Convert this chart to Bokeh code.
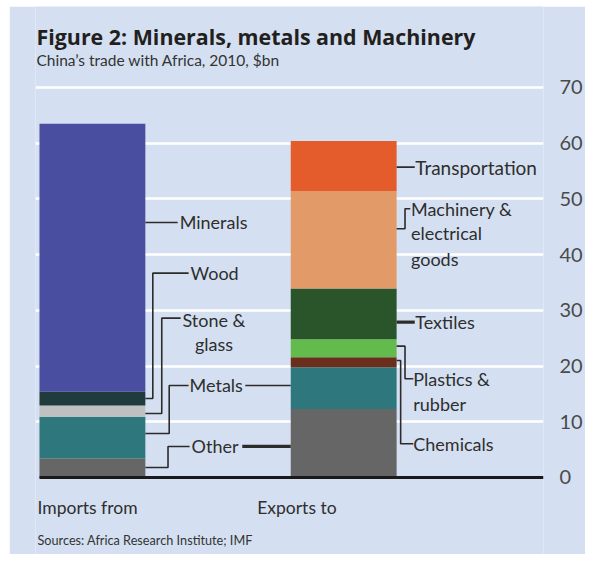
import numpy as np
from bokeh.plotting import figure
from bokeh.layouts import column, row
from bokeh.models import Range1d, FixedTicker, ColumnDataSource, Spacer
from bokeh.core.properties import value
from bokeh.embed import file_html
from bokeh.resources import INLINE

# ---------------- data ----------------
bar_names = ["Imports from", "Exports to"]

imports_labels = ["Other", "Metals", "Stone & glass", "Wood", "Minerals"]
imports_values = [3.4, 7.5, 2.0, 2.5, 48.1]
imports_colors = ["#666666", "#2e777c", "#c0c0c0", "#1f3b3b", "#4a4ea0"]

exports_labels = ["Other", "Metals", "Chemicals", "Plastics & rubber", "Textiles",
                  "Machinery & electrical goods", "Transportation"]
exports_values = [12.3, 7.5, 1.8, 3.2, 9.1, 17.5, 9.0]
exports_colors = ["#666666", "#2e777c", "#6b2e1c", "#62bb4c", "#2a5429",
                  "#e29a68", "#e55c2c"]

tick_values = [0, 10, 20, 30, 40, 50, 60, 70]

title_text = "Figure 2: Minerals, metals and Machinery"
subtitle_text = "China\u2019s trade with Africa, 2010, $bn"
source_text = "Sources: Africa Research Institute; IMF"

# ---------------- styling / layout ----------------
BG = "#d4e0f1"
FONT = "Lato"
TXT = "#2e2e2e"
LEAD = "#2b2b2b"
BAR_X = [57.25, 310.0]
BAR_W = 106.5

p = figure(width=576, height=548, output_backend="svg", toolbar_location=None,
           x_range=Range1d(0, 511), y_range=Range1d(-13.83, 84.54),
           x_axis_location=None, y_axis_location="right",
           min_border_left=26, min_border_right=39, min_border_top=0, min_border_bottom=0,
           background_fill_color=BG, border_fill_color=BG, outline_line_color=None)

# grid
p.xgrid.visible = False
p.ygrid.ticker = FixedTicker(ticks=tick_values[1:])
p.ygrid.grid_line_color = "white"
p.ygrid.grid_line_width = 2.5

# right axis
ax = p.yaxis[0]
ax.ticker = FixedTicker(ticks=tick_values)
ax.axis_line_color = None
ax.major_tick_line_color = None
ax.minor_tick_line_color = None
ax.major_label_standoff = 10
ax.major_label_text_font = FONT
ax.major_label_text_font_size = "20px"
ax.major_label_text_color = "#4a4a4a"

# stacked bars
def stack(xc, vals, cols):
    vals = np.array(vals, dtype=float)
    top = np.cumsum(vals)
    bottom = top - vals
    src = ColumnDataSource(dict(x=[xc] * len(vals), bottom=bottom, top=top, color=cols))
    p.vbar(x="x", bottom="bottom", top="top", width=BAR_W, fill_color="color",
           line_color=None, source=src)

stack(BAR_X[0], imports_values, imports_colors)
stack(BAR_X[1], exports_values, exports_colors)

# baseline
p.segment(x0=4, y0=0, x1=511, y1=0, line_color="#1a1a1a", line_width=3)

# leader lines
xr_i = BAR_X[0] + BAR_W / 2
xr_e = BAR_X[1] + BAR_W / 2
thin_xs = [
    [xr_i, 143],                              # Minerals
    [xr_i, 118, 118, 154],                    # Wood
    [xr_i, 127, 127, 146],                    # Stone & glass
    [xr_i, 134.5, 134.5, 154],                # Metals
    [xr_i, 133.3, 133.3, 155],                # Other
    [211, BAR_X[1] - BAR_W / 2],              # Metals -> exports
    [xr_e, 381.5],                            # Transportation
    [xr_e, 371.7, 371.7, 377],                # Machinery
    [xr_e, 371.7, 371.7, 380],                # Plastics
    [xr_e, 367.3, 367.3, 380],                # Chemicals
]
thin_ys = [
    [45.77, 45.77],
    [14.18, 14.18, 36.67, 36.67],
    [11.49, 11.49, 28.6, 28.6],
    [7.90, 7.90, 16.51, 16.51],
    [1.80, 1.80, 5.57, 5.57],
    [16.51, 16.51],
    [55.70, 55.70],
    [44.64, 44.64, 48.23, 48.23],
    [23.57, 23.57, 17.72, 17.72],
    [21.0, 21.0, 6.05, 6.05],
]
p.multi_line(xs=thin_xs, ys=thin_ys, line_color=LEAD, line_width=1.6)
p.multi_line(xs=[[208, BAR_X[1] - BAR_W / 2], [xr_e, 381.5]],
             ys=[[5.57, 5.57], [27.88, 27.88]], line_color=LEAD, line_width=3.2)

# category labels
def label(x, y, t, size="18px", align="left", bold=False, color=TXT, baseline="middle", font=FONT):
    p.text(x=[x], y=[y], text=[t], text_font=value(font), text_font_size=size,
           text_align=align, text_baseline=baseline, text_color=color,
           text_font_style="bold" if bold else "normal")

label(145, 45.77, "Minerals")
label(156, 36.67, "Wood")
label(179.5, 28.31, "Stone &", align="center")
label(179.5, 24.0, "glass", align="center")
label(155, 16.51, "Metals")
label(157, 5.57, "Other")
label(382, 55.70, "Transportation", size="19px")
label(377.7, 48.23, "Machinery &")
label(377.7, 43.85, "electrical")
label(377.7, 39.26, "goods")
label(382, 27.88, "Textiles")
label(380, 17.72, "Plastics &")
label(380, 13.23, "rubber")
label(380, 6.05, "Chemicals")

# bar names
label(2, -5.39, bar_names[0], size="17.5px")
label(223, -5.39, bar_names[1], size="17.5px")

# titles and source
label(1, 79.16, title_text, size="21.4px", bold=True, color="#231f20", baseline="alphabetic",
      font="Open Sans")
label(1, 74.85, subtitle_text, size="15.5px", color="#333333", baseline="alphabetic")
label(2, -11.31, source_text, size="12.7px", color="#333333")

layout = column(Spacer(height=6, width=585),
                row(Spacer(width=9, height=548), p))
open("out.html", "w").write(file_html(layout, INLINE))
